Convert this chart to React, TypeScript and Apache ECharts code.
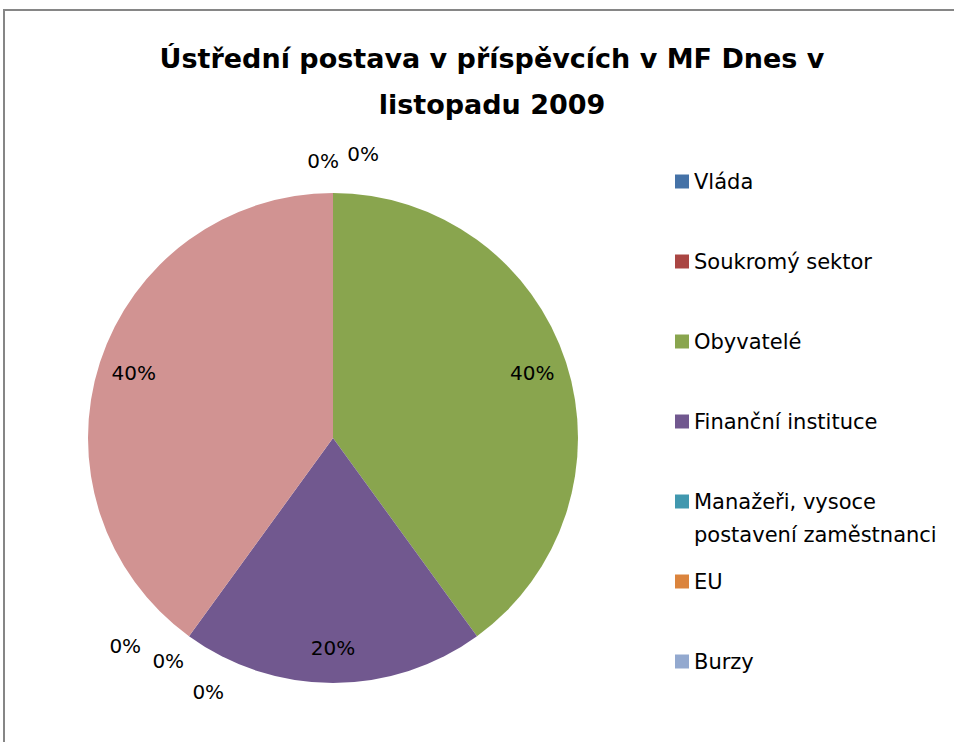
import React, { useEffect, useRef } from "react";
import * as echarts from "echarts";

const titleText = "Ústřední postava v příspěvcích v MF Dnes v\nlistopadu 2009";
const categories = [
  "Vláda",
  "Soukromý sektor",
  "Obyvatelé",
  "Finanční instituce",
  "Manažeři, vysoce postavení zaměstnanci",
  "EU",
  "Burzy",
  "Ostatní",
];
const values = [0, 0, 40, 20, 0, 0, 0, 40];
const legendCount = 7; // the 8th category is cut off in the original legend
const legendWrapAfter = "vysoce ";
const palette = ["#4572A7", "#AA4643", "#89A54E", "#71588F", "#4198AF", "#DB843D", "#93A9CF", "#D19392"];

// small nudges (dx, dy) for the outside labels of the zero slices, Excel "best fit" look
const zeroLabelNudges: Record<number, [number, number]> = {
  0: [15, -22],
  1: [55, -29],
  4: [-33, 2],
  5: [10, 17],
  6: [50, 48],
};

const FONT = "'DejaVu Sans', sans-serif";

export default function App() {
  const ref = useRef<HTMLDivElement>(null);
  useEffect(() => {
    if (!ref.current) return;
    const chart = echarts.init(ref.current, null, { renderer: "svg" });
    const data = categories.map((name, i) => ({
      name,
      value: values[i],
      itemStyle: { color: palette[i] },
    }));
    const cx = 333;
    const cy = 438;
    const R = 245;
    const legendLeft = 675;
    const legendTop = 165;
    const legendStep = 80;
    const legendLine = 33;
    const wrapIndex = categories.findIndex((n) => n.indexOf(legendWrapAfter) >= 0);
    const wrapped = categories[wrapIndex];
    const cut = wrapped.indexOf(legendWrapAfter) + legendWrapAfter.length;
    chart.setOption({
      animation: false,
      backgroundColor: "#fff",
      title: {
        text: titleText,
        left: 487,
        textAlign: "center",
        top: 30,
        textStyle: {
          fontFamily: FONT,
          fontSize: 27,
          fontWeight: "bold",
          color: "#000",
          lineHeight: 46,
        },
      },
      graphic: [
        {
          type: "rect",
          shape: { x: 4, y: 10, width: 980, height: 760 },
          style: { fill: "none", stroke: "#868686", lineWidth: 2 },
          silent: true,
        },
        {
          type: "text",
          left: legendLeft + 14 + 5,
          top: legendTop + wrapIndex * legendStep + legendLine,
          silent: true,
          style: {
            text: wrapped.slice(cut),
            fontFamily: FONT,
            fontSize: 21,
            fill: "#000",
            lineHeight: legendLine,
          },
        },
      ],
      legend: {
        data: categories.slice(0, legendCount).map((name, i) => ({
          name,
          itemStyle: { color: palette[i] },
        })),
        orient: "vertical",
        left: legendLeft,
        top: legendTop,
        padding: 0,
        icon: "rect",
        itemWidth: 14,
        itemHeight: 14,
        itemGap: legendStep - legendLine,
        selectedMode: false,
        formatter: (n: string) =>
          n.indexOf(legendWrapAfter) >= 0 ? n.slice(0, n.indexOf(legendWrapAfter) + legendWrapAfter.length - 1) : n,
        textStyle: {
          fontFamily: FONT,
          fontSize: 21,
          color: "#000",
          lineHeight: legendLine,
        },
      },
      series: [
        {
          type: "pie",
          center: [cx, cy],
          radius: [0, R],
          startAngle: 90,
          clockwise: true,
          silent: true,
          label: { show: false },
          labelLine: { show: false },
          itemStyle: { borderWidth: 0 },
          data,
        },
        {
          type: "pie",
          center: [cx, cy],
          radius: [168, R],
          startAngle: 90,
          clockwise: true,
          silent: true,
          percentPrecision: 0,
          avoidLabelOverlap: false,
          itemStyle: { color: "rgba(0,0,0,0)", borderWidth: 0 },
          labelLine: { show: false, length: 10, length2: 4 },
          labelLayout: (p: any) => {
            const n = zeroLabelNudges[p.dataIndex];
            return n ? { dx: n[0], dy: n[1] } : {};
          },
          data: categories.map((name, i) => ({
            name,
            value: values[i],
            label: {
              show: true,
              position: values[i] > 0 ? "inside" : "outside",
              formatter: "{d}%",
              fontFamily: FONT,
              fontSize: 20,
              color: "#000",
            },
          })),
        },
      ],
    });
    return () => chart.dispose();
  }, []);
  return (
    <div
      ref={ref}
      style={{ position: "fixed", left: 0, top: 0, width: 954, height: 742 }}
    />
  );
}
